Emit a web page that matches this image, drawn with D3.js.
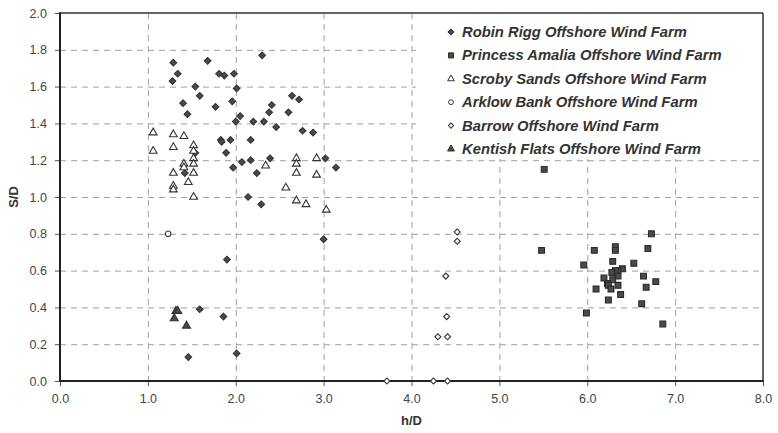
<!DOCTYPE html>
<html>
<head>
<meta charset="utf-8">
<script src="https://cdn.jsdelivr.net/npm/d3@7"></script>
<style>
  html, body { margin: 0; padding: 0; background: #fff; }
  svg { display: block; font-family: "Liberation Sans", Arial, sans-serif; }
</style>
</head>
<body>
<svg id="chart" width="778" height="433"></svg>
<script>
// ---- data (h/D, S/D) ----
const robinRigg = [
  [1.29,1.73],[1.34,1.67],[1.28,1.63],[1.68,1.74],[1.81,1.67],[1.87,1.66],[1.98,1.67],[2.30,1.77],
  [1.54,1.60],[2.01,1.59],[1.59,1.55],[1.40,1.51],[1.96,1.52],[1.77,1.49],[1.45,1.45],[2.64,1.55],
  [2.72,1.53],[2.41,1.50],[2.38,1.46],[2.60,1.46],[2.05,1.44],[2.00,1.41],[2.20,1.41],[2.32,1.41],
  [2.46,1.38],[2.76,1.36],[2.88,1.35],[1.83,1.31],[1.84,1.30],[1.94,1.31],[2.17,1.31],[1.89,1.24],
  [1.54,1.24],[2.39,1.21],[2.07,1.19],[2.17,1.20],[1.97,1.16],[2.24,1.13],[3.02,1.21],[3.14,1.16],
  [1.42,1.13],[2.14,1.00],[2.29,0.96],[3.00,0.77],[1.90,0.66],[1.59,0.39],[1.86,0.35],[1.46,0.13],
  [2.01,0.15]
];
const princessAmalia = [
  [5.51,1.15],[5.48,0.71],[6.73,0.80],[6.08,0.71],[6.32,0.73],[6.32,0.71],[6.69,0.72],[6.29,0.65],
  [6.53,0.64],[5.96,0.63],[6.40,0.61],[6.35,0.60],[6.32,0.60],[6.28,0.59],[6.35,0.57],[6.64,0.57],
  [6.19,0.56],[6.29,0.55],[6.23,0.53],[6.24,0.52],[6.35,0.52],[6.78,0.54],[6.67,0.51],[6.10,0.50],
  [6.27,0.50],[6.38,0.47],[6.24,0.44],[6.62,0.42],[5.99,0.37],[6.86,0.31]
];
const scrobySands = [
  [1.06,1.35],[1.06,1.25],[1.29,1.34],[1.41,1.33],[1.29,1.27],[1.52,1.28],[1.52,1.25],[1.52,1.21],
  [1.41,1.18],[1.41,1.16],[1.52,1.18],[1.29,1.13],[1.52,1.13],[1.46,1.08],[1.29,1.06],[1.29,1.04],
  [1.52,1.00],[2.34,1.17],[2.69,1.21],[2.69,1.18],[2.69,1.13],[2.92,1.21],[2.92,1.12],[2.57,1.05],
  [2.69,0.98],[2.80,0.96],[3.03,0.93]
];
const arklowBank = [
  [1.23,0.80]
];
const barrow = [
  [4.52,0.81],[4.52,0.76],[4.39,0.57],[4.40,0.35],[4.30,0.24],[4.41,0.24],[3.72,0.00],[4.25,0.00],
  [4.41,0.00]
];
const kentishFlats = [
  [1.32,0.38],[1.34,0.38],[1.30,0.34],[1.44,0.30]
];
const seriesNames = [
  "Robin Rigg Offshore Wind Farm",
  "Princess Amalia Offshore Wind Farm",
  "Scroby Sands Offshore Wind Farm",
  "Arklow Bank Offshore Wind Farm",
  "Barrow Offshore Wind Farm",
  "Kentish Flats Offshore Wind Farm"
];
const xTicks = [0,1,2,3,4,5,6,7,8];
const yTicks = [0,0.2,0.4,0.6,0.8,1.0,1.2,1.4,1.6,1.8,2.0];

// ---- styles ----
// "rot" = rotate a square 45° to get a regular diamond
const series = [
  {data: robinRigg,      sym: d3.symbolSquare,   rot: 45, size: 22, fill: "#4a4a4a", stroke: "#333"},
  {data: princessAmalia, sym: d3.symbolSquare,   rot: 0,  size: 34, fill: "#4a4a4a", stroke: "#2a2a2a"},
  {data: scrobySands,    sym: d3.symbolTriangle, rot: 0,  size: 26, fill: "#fff", stroke: "#333"},
  {data: arklowBank,     sym: d3.symbolCircle,   rot: 0,  size: 24, fill: "#fff", stroke: "#333"},
  {data: barrow,         sym: d3.symbolSquare,   rot: 45, size: 18, fill: "#fff", stroke: "#333"},
  {data: kentishFlats,   sym: d3.symbolTriangle, rot: 0,  size: 28, fill: "#4a4a4a", stroke: "#333"}
];

const svg = d3.select("#chart");
const L = 60, R = 763, T = 13, B = 381;
const x = d3.scaleLinear().domain([0, 8]).range([L, R]);
const y = d3.scaleLinear().domain([0, 2]).range([B, T]);

// gridlines
const grid = svg.append("g");
grid.selectAll("line.h").data(yTicks.filter(v => v > 0 && v < 2)).join("line")
  .attr("x1", L).attr("x2", R)
  .attr("y1", d => y(d) + 0.5).attr("y2", d => y(d) + 0.5)
  .attr("stroke", "#a0a0a0").attr("stroke-width", 1).attr("stroke-dasharray", "6,5");
grid.selectAll("line.v").data(xTicks.filter(v => v > 0 && v < 8)).join("line")
  .attr("x1", d => x(d) + 0.5).attr("x2", d => x(d) + 0.5)
  .attr("y1", T).attr("y2", B)
  .attr("stroke", "#a0a0a0").attr("stroke-width", 1).attr("stroke-dasharray", "6,5");

// legend background (covers gridlines)
svg.append("rect").attr("x", 416).attr("y", T + 1).attr("width", R - 417).attr("height", 145)
  .attr("fill", "#fff");

// axes
const xAxis = d3.axisBottom(x).tickValues(xTicks).tickFormat(d3.format(".1f")).tickSize(5).tickPadding(8);
const yAxis = d3.axisLeft(y).tickValues(yTicks).tickFormat(d3.format(".1f")).tickSize(5).tickPadding(8);
const gx = svg.append("g").attr("transform", `translate(0,${B})`).call(xAxis);
const gy = svg.append("g").attr("transform", `translate(${L},0)`).call(yAxis);
[gx, gy].forEach(g => {
  g.select(".domain").remove();
  g.selectAll(".tick line").attr("stroke", "#555");
  g.selectAll(".tick text").attr("fill", "#444").attr("font-size", 12.5)
    .attr("font-family", "'Liberation Sans', Arial, sans-serif");
});

// frame
svg.append("line").attr("x1", L).attr("x2", R).attr("y1", T).attr("y2", T).attr("stroke", "#333").attr("stroke-width", 1.5);
svg.append("line").attr("x1", R).attr("x2", R).attr("y1", T).attr("y2", B).attr("stroke", "#333").attr("stroke-width", 1.5);
svg.append("line").attr("x1", L).attr("x2", L).attr("y1", T - 0.75).attr("y2", B + 1).attr("stroke", "#222").attr("stroke-width", 2);
svg.append("line").attr("x1", L - 1).attr("x2", R + 0.75).attr("y1", B).attr("y2", B).attr("stroke", "#222").attr("stroke-width", 2);

// axis titles
svg.append("text").attr("x", x(4)).attr("y", 425).attr("text-anchor", "middle")
  .attr("font-size", 13).attr("font-weight", "bold").attr("fill", "#333").text("h/D");
svg.append("text").attr("transform", `translate(18,${y(1)}) rotate(-90)`).attr("text-anchor", "middle")
  .attr("font-size", 13).attr("font-weight", "bold").attr("fill", "#333").text("S/D");

// points
series.forEach(s => {
  const sym = d3.symbol().type(s.sym).size(s.size);
  svg.append("g").selectAll("path").data(s.data).join("path")
    .attr("transform", d => `translate(${x(d[0])},${y(d[1])}) rotate(${s.rot})`)
    .attr("d", sym)
    .attr("fill", s.fill).attr("stroke", s.stroke).attr("stroke-width", 1.1);
});

// legend
const leg = svg.append("g");
seriesNames.forEach((name, i) => {
  const cy = 32 + i * 23.4;
  const s = series[i];
  leg.append("path").attr("transform", `translate(451,${cy}) rotate(${s.rot})`)
    .attr("d", d3.symbol().type(s.sym).size(s.size * 0.75)())
    .attr("fill", s.fill).attr("stroke", s.stroke).attr("stroke-width", 1);
  leg.append("text").attr("x", 462).attr("y", cy + 5)
    .attr("font-size", 14.8).attr("font-weight", "bold").attr("font-style", "italic")
    .attr("fill", "#333").text(name);
});
</script>
</body>
</html>
